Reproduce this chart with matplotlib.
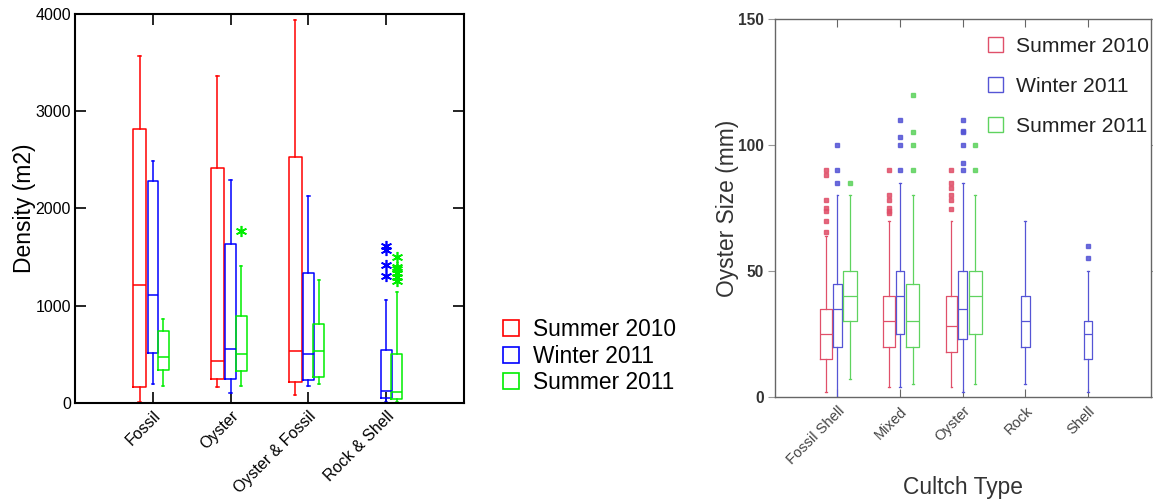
import matplotlib
matplotlib.use('Agg')
import matplotlib.pyplot as plt
import matplotlib.transforms as mtransforms
from matplotlib.patches import Patch

plt.rcParams['font.family'] = ['Liberation Sans', 'DejaVu Sans']

seasons = ['Summer 2010', 'Winter 2011', 'Summer 2011']

# left panel: density by substrate, each box is (whislo, q1, med, q3, whishi)
density_types = ['Fossil', 'Oyster', 'Oyster & Fossil', 'Rock & Shell']
density_summer2010 = [(10, 158, 1215, 2820, 3570), (158, 240, 432, 2415, 3362),
                      (79, 216, 528, 2532, 3939), None]
density_winter2011 = [(189, 515, 1112, 2282, 2484), (96, 240, 552, 1630, 2289),
                      (172, 233, 501, 1338, 2131), (10, 48, 120, 542, 1057)]
density_summer2011 = [(172, 336, 470, 741, 865), (172, 326, 504, 895, 1407),
                      (192, 264, 528, 810, 1266), (10, 34, 113, 497, 1140)]
density_out_summer2010 = [[], [], [], []]
density_out_winter2011 = [[], [], [], [1610, 1570, 1415, 1300]]
density_out_summer2011 = [[], [1764], [], [1504, 1402, 1378, 1340, 1299, 1254]]

# right panel: oyster size by cultch type
cultch_types = ['Fossil Shell', 'Mixed', 'Oyster', 'Rock', 'Shell']
size_summer2010 = [(2, 15, 25, 35, 64), (4, 20, 30, 40, 70), (4, 18, 28, 40, 70), None, None]
size_winter2011 = [(0, 20, 35, 45, 80), (4, 25, 40, 50, 85), (2, 23, 35, 50, 85),
                   (5, 20, 30, 40, 70), (2, 15, 25, 30, 50)]
size_summer2011 = [(7, 30, 40, 50, 80), (5, 20, 30, 45, 80), (5, 25, 40, 50, 80), None, None]
size_out_summer2010 = [[65.5, 70, 74, 75, 78, 88, 90], [73, 74, 75, 78, 80, 90],
                       [74.5, 78, 80, 83, 85, 90], [], []]
size_out_winter2011 = [[85, 90, 100], [90, 100, 103, 110], [90, 93, 100, 105, 105.7, 110],
                       [], [55, 60]]
size_out_summer2011 = [[85], [90, 100, 105, 120], [90, 100], [], []]


def draw_boxes(ax, data, outliers, color, offset, width, lw, flier):
    stats, pos = [], []
    for i, (vals, out) in enumerate(zip(data, outliers)):
        if vals is None:
            continue
        lo, q1, med, q3, hi = vals
        stats.append(dict(whislo=lo, q1=q1, med=med, q3=q3, whishi=hi, fliers=out))
        pos.append(i + 1 + offset)
    line = dict(color=color, linewidth=lw)
    ax.bxp(stats, positions=pos, widths=width, capwidths=0.03, manage_ticks=False,
           boxprops=line, whiskerprops=line, capprops=line, medianprops=line,
           flierprops=dict(markeredgecolor=color, markerfacecolor=color, **flier))


fig = plt.figure(figsize=(11.53, 5.01), dpi=100)

# ---------------- left panel ----------------
ax1 = fig.add_axes([0.065, 0.196, 0.3375, 0.776])
left_colors = ['#ff0000', '#0000ff', '#00ee00']
left_data = [density_summer2010, density_winter2011, density_summer2011]
left_out = [density_out_summer2010, density_out_winter2011, density_out_summer2011]
left_offsets = [-0.17, 0.0, 0.135]
left_widths = [0.17, 0.135, 0.14]
star = dict(marker=(6, 2, 0), markersize=8, linestyle='none', markeredgewidth=1.2)
for d, o, c, off, w in zip(left_data, left_out, left_colors, left_offsets, left_widths):
    draw_boxes(ax1, d, o, c, off, w, 1.1, star)

ax1.set_xlim(0, 5)
ax1.set_ylim(0, 4000)
ax1.set_yticks([0, 1000, 2000, 3000, 4000])
ax1.set_xticks(range(1, len(density_types) + 1))
ax1.set_xticklabels(density_types, rotation=45, ha='right', va='top',
                    rotation_mode='anchor', fontsize=11.5)
shift = mtransforms.ScaledTranslation(4 / 100, 0, fig.dpi_scale_trans)
for lbl in ax1.get_xticklabels():
    lbl.set_transform(lbl.get_transform() + shift)
ax1.tick_params(direction='in', length=8, width=1.2, top=True, right=True,
                labelsize=11.5, pad=4)
ax1.tick_params(axis='y', pad=3)
for s in ax1.spines.values():
    s.set_linewidth(1.5)
ax1.set_ylabel('Density (m2)', fontsize=16.5, labelpad=-0.5)

handles = [Patch(facecolor='none', edgecolor=c, linewidth=1.2) for c in left_colors]
fig.legend(handles, seasons, loc='upper left', bbox_to_anchor=(0.4365, 0.365),
           frameon=False, fontsize=16.4, handlelength=0.7, handleheight=0.7,
           handletextpad=0.6, labelspacing=0.15, borderpad=0, borderaxespad=0)

# ---------------- right panel ----------------
ax2 = fig.add_axes([0.672, 0.2076, 0.326, 0.7544])
right_colors = ['#e0506a', '#5555d5', '#5fd35f']
right_data = [size_summer2010, size_winter2011, size_summer2011]
right_out = [size_out_summer2010, size_out_winter2011, size_out_summer2011]
right_offsets = [-0.18, 0.0, 0.2]
right_widths = [0.19, 0.14, 0.21]
dot = dict(marker='s', markersize=2.2, linestyle='none', alpha=0.85)
for d, o, c, off, w in zip(right_data, right_out, right_colors, right_offsets, right_widths):
    draw_boxes(ax2, d, o, c, off, w, 0.9, dot)

ax2.set_xlim(0, 6)
ax2.set_ylim(0, 150)
ax2.set_yticks([0, 50, 100, 150])
ax2.set_xticks(range(1, len(cultch_types) + 1))
ax2.set_xticklabels(cultch_types, rotation=45, ha='right', va='top',
                    rotation_mode='anchor', fontsize=10.5, color='#444444')
ax2.tick_params(axis='y', direction='out', length=5, width=0.8, color='#999999',
                labelsize=11.2, labelcolor='#333333', pad=3)
ax2.tick_params(axis='x', direction='in', length=6, width=0.8, color='#666666',
                top=True, pad=5)
ax2.tick_params(axis='y', which='both', right=True)
for lbl in ax2.get_yticklabels():
    lbl.set_fontweight('bold')
for s in ax2.spines.values():
    s.set_linewidth(1.0)
    s.set_color('#666666')
ax2.set_ylabel('Oyster Size (mm)', fontsize=16.4, color='#333333', labelpad=-1)
ax2.set_xlabel('Cultch Type', fontsize=16.4, color='#333333', labelpad=6)

handles2 = [Patch(facecolor='none', edgecolor=c, linewidth=1.0) for c in right_colors]
ax2.legend(handles2, seasons, loc='upper left', bbox_to_anchor=(0.857, 0.927),
           bbox_transform=fig.transFigure, frameon=False, fontsize=15.2,
           handlelength=0.7, handleheight=0.7, handletextpad=0.6,
           labelspacing=1.0, borderpad=0, borderaxespad=0, labelcolor='#222222')

fig.savefig('out.png', dpi=100)
